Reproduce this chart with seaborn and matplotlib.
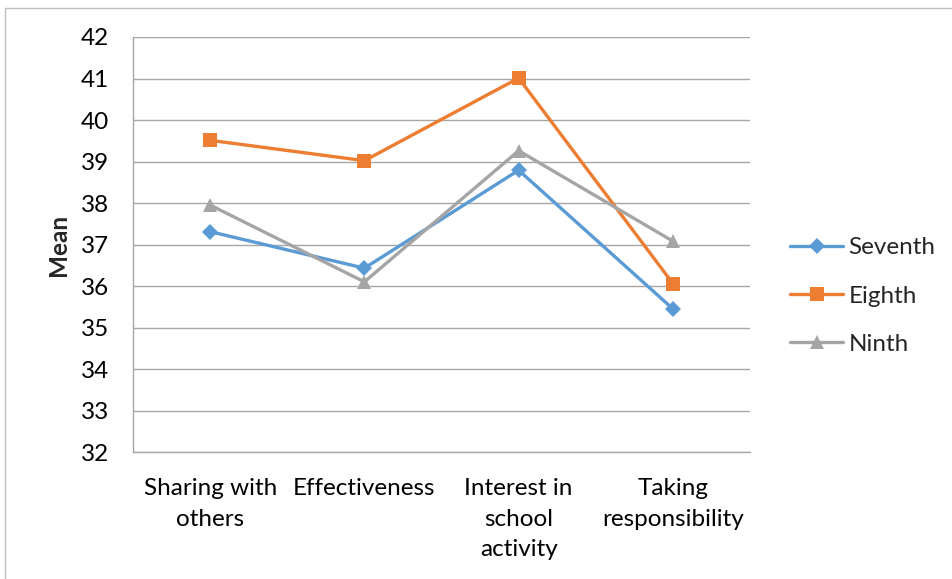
import matplotlib
matplotlib.use("Agg")
import matplotlib.pyplot as plt
from matplotlib.patches import Rectangle
import pandas as pd
import seaborn as sns

categories = ["Sharing with\nothers", "Effectiveness", "Interest in\nschool\nactivity", "Taking\nresponsibility"]
seventh = [37.31, 36.43, 38.79, 35.45]
eighth = [39.51, 39.02, 41.01, 36.06]
ninth = [37.95, 36.10, 39.26, 37.08]
grades = ["Seventh", "Eighth", "Ninth"]
y_ticks = [32, 33, 34, 35, 36, 37, 38, 39, 40, 41, 42]

df = pd.DataFrame({
    "Category": categories * 3,
    "Mean": seventh + eighth + ninth,
    "Grade": [g for g in grades for _ in categories],
})

sns.set_theme(style="white")
plt.rcParams["font.family"] = ["Lato", "DejaVu Sans"]

FS = 17.5

fig = plt.figure(figsize=(9.53, 5.79), dpi=100)
ax = fig.add_axes([0.1396, 0.2193, 0.6474, 0.7168])

# outer chart border
fig.patches.append(Rectangle((5 / 953, -0.1), 1.2, 1 - 8 / 579 + 0.1,
                             transform=fig.transFigure, fill=False,
                             edgecolor="#BFBFBF", linewidth=1.0))

palette = {"Seventh": "#5B9BD5", "Eighth": "#ED7D31", "Ninth": "#A5A5A5"}
markers = {"Seventh": "D", "Eighth": "s", "Ninth": "^"}
sizes = {"Seventh": 8, "Eighth": 9.5, "Ninth": 10}

for g in grades:
    sub = df[df["Grade"] == g]
    sns.lineplot(data=sub, x="Category", y="Mean", ax=ax, color=palette[g],
                 marker=markers[g], markersize=sizes[g], markeredgewidth=0,
                 linewidth=2.4, label=g, sort=False, zorder=3)

ax.set_ylim(32, 42)
ax.set_yticks(y_ticks)
ax.set_xlim(-0.5, 3.5)
ax.yaxis.grid(True, color="#A6A6A6", linewidth=1.0)
ax.set_axisbelow(True)
for s in ["top", "right"]:
    ax.spines[s].set_visible(False)
for s in ["left", "bottom"]:
    ax.spines[s].set_color("#A6A6A6")
    ax.spines[s].set_linewidth(1.0)
ax.tick_params(axis="both", length=0, labelsize=FS, colors="black")
ax.tick_params(axis="y", pad=17)
ax.tick_params(axis="x", pad=19)
for lbl in ax.get_xticklabels():
    lbl.set_linespacing(1.55)
ax.set_xlabel("")
ax.set_ylabel("")

# vertical axis title, centred beside the value labels
fig.text(59 / 953, 1 - 245 / 579, "Mean", rotation=90, ha="center", va="center",
         fontsize=FS, fontweight="bold")

leg = ax.legend(loc="center left", bbox_to_anchor=(790 / 953, 1 - 296 / 579),
                bbox_transform=fig.transFigure, frameon=False,
                fontsize=FS, handlelength=2.2, handletextpad=0.2,
                labelspacing=1.12, borderaxespad=0, borderpad=0)

fig.savefig("out.png", dpi=100)
